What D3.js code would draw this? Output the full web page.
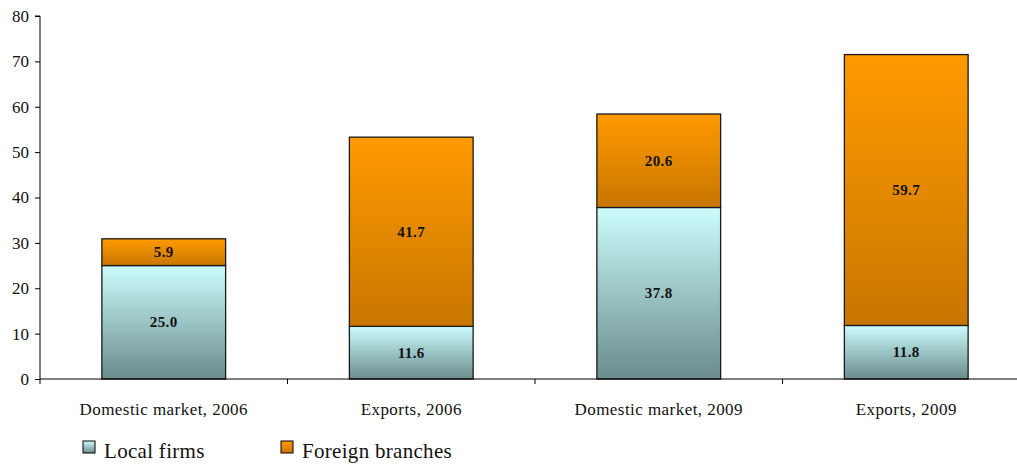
<!DOCTYPE html>
<html>
<head>
<meta charset="utf-8">
<script src="https://cdn.jsdelivr.net/npm/d3@7"></script>
<style>
  body { margin: 0; background: #fff; }
  svg { display: block; }
  svg text { font-family: "Liberation Serif", "Times New Roman", serif; }
</style>
</head>
<body>
<svg id="chart" width="1017" height="464"></svg>
<script>
// data
var categories = ["Domestic market, 2006", "Exports, 2006", "Domestic market, 2009", "Exports, 2009"];
var localFirms = [25.0, 11.6, 37.8, 11.8];
var foreignBranches = [5.9, 41.7, 20.6, 59.7];
var seriesNames = ["Local firms", "Foreign branches"];
var yTicks = [0, 10, 20, 30, 40, 50, 60, 70, 80];

var svg = d3.select("#chart");

var x0 = 40, x1 = 1030, yBottom = 379, yTop = 16;

var x = d3.scaleBand()
  .domain(categories)
  .range([x0, x1])
  .paddingInner(0.5)
  .paddingOuter(0.25);

var y = d3.scaleLinear()
  .domain([0, 80])
  .range([yBottom, yTop]);

// gradients
var defs = svg.append("defs");
var gradLocal = defs.append("linearGradient").attr("id", "gLocal")
  .attr("x1", 0).attr("y1", 0).attr("x2", 0).attr("y2", 1);
gradLocal.append("stop").attr("offset", "0%").attr("stop-color", "#ccfcfc");
gradLocal.append("stop").attr("offset", "100%").attr("stop-color", "#6a8c8c");

var gradForeign = defs.append("linearGradient").attr("id", "gForeign")
  .attr("x1", 0).attr("y1", 0).attr("x2", 0).attr("y2", 1);
gradForeign.append("stop").attr("offset", "0%").attr("stop-color", "#ff9a00");
gradForeign.append("stop").attr("offset", "100%").attr("stop-color", "#c87600");

var rows = categories.map(function(c, i) {
  return { cat: c, local: localFirms[i], foreign: foreignBranches[i] };
});

var stack = d3.stack().keys(["local", "foreign"]);
var layers = stack(rows);
var fills = { local: "url(#gLocal)", foreign: "url(#gForeign)" };

// bars
layers.forEach(function(layer) {
  var g = svg.append("g").attr("class", "layer-" + layer.key);
  g.selectAll("rect")
    .data(layer)
    .enter().append("rect")
    .attr("x", function(d) { return x(d.data.cat); })
    .attr("y", function(d) { return y(d[1]); })
    .attr("width", x.bandwidth())
    .attr("height", function(d) { return y(d[0]) - y(d[1]); })
    .attr("fill", fills[layer.key])
    .attr("stroke", "#1a1a1a")
    .attr("stroke-width", 1.3);

  g.selectAll("text")
    .data(layer)
    .enter().append("text")
    .attr("x", function(d) { return x(d.data.cat) + x.bandwidth() / 2; })
    .attr("y", function(d) { return (y(d[0]) + y(d[1])) / 2 + 5; })
    .attr("text-anchor", "middle")
    .attr("font-weight", "bold")
    .attr("font-size", "15px")
    .style("letter-spacing", "0.4px")
    .attr("fill", "#111")
    .text(function(d) { return (d[1] - d[0]).toFixed(1); });
});

// y axis
var yAxis = d3.axisLeft(y).tickValues(yTicks).tickSize(5).tickPadding(6);
var gy = svg.append("g")
  .attr("transform", "translate(" + x0 + ",0)")
  .call(yAxis);
gy.select(".domain").attr("stroke", "#000").attr("d", "M-5," + yTop + "H0V" + yBottom);
gy.selectAll(".tick line").attr("stroke", "#000");
gy.selectAll(".tick text")
  .style("font-family", "'Liberation Serif', serif")
  .style("font-size", "17px")
  .attr("fill", "#111");

// x axis: line with ticks at category boundaries
var gx = svg.append("g");
gx.append("line")
  .attr("x1", x0).attr("x2", 1017)
  .attr("y1", yBottom).attr("y2", yBottom)
  .attr("stroke", "#000");
var step = x.step();
var bounds = d3.range(categories.length).map(function(i) { return x0 + i * step; });
gx.selectAll(".xt")
  .data(bounds)
  .enter().append("line")
  .attr("class", "xt")
  .attr("x1", function(d) { return d; })
  .attr("x2", function(d) { return d; })
  .attr("y1", yBottom).attr("y2", yBottom + 5)
  .attr("stroke", "#000");
gx.selectAll(".xl")
  .data(categories)
  .enter().append("text")
  .attr("class", "xl")
  .attr("x", function(d) { return x(d) + x.bandwidth() / 2; })
  .attr("y", 415)
  .attr("text-anchor", "middle")
  .attr("font-size", "17px")
  .style("letter-spacing", "0.45px")
  .attr("fill", "#111")
  .text(function(d) { return d; });

// legend
var legend = svg.append("g");
var legendX = [83, 281];
seriesNames.forEach(function(name, i) {
  legend.append("rect")
    .attr("x", legendX[i]).attr("y", 441)
    .attr("width", 12).attr("height", 12)
    .attr("fill", i === 0 ? "url(#gLocal)" : "url(#gForeign)")
    .attr("stroke", "#000");
  legend.append("text")
    .attr("x", legendX[i] + 21).attr("y", 458)
    .attr("font-size", "21px")
    .style("letter-spacing", "0.3px")
    .attr("fill", "#111")
    .text(name);
});
</script>
</body>
</html>
